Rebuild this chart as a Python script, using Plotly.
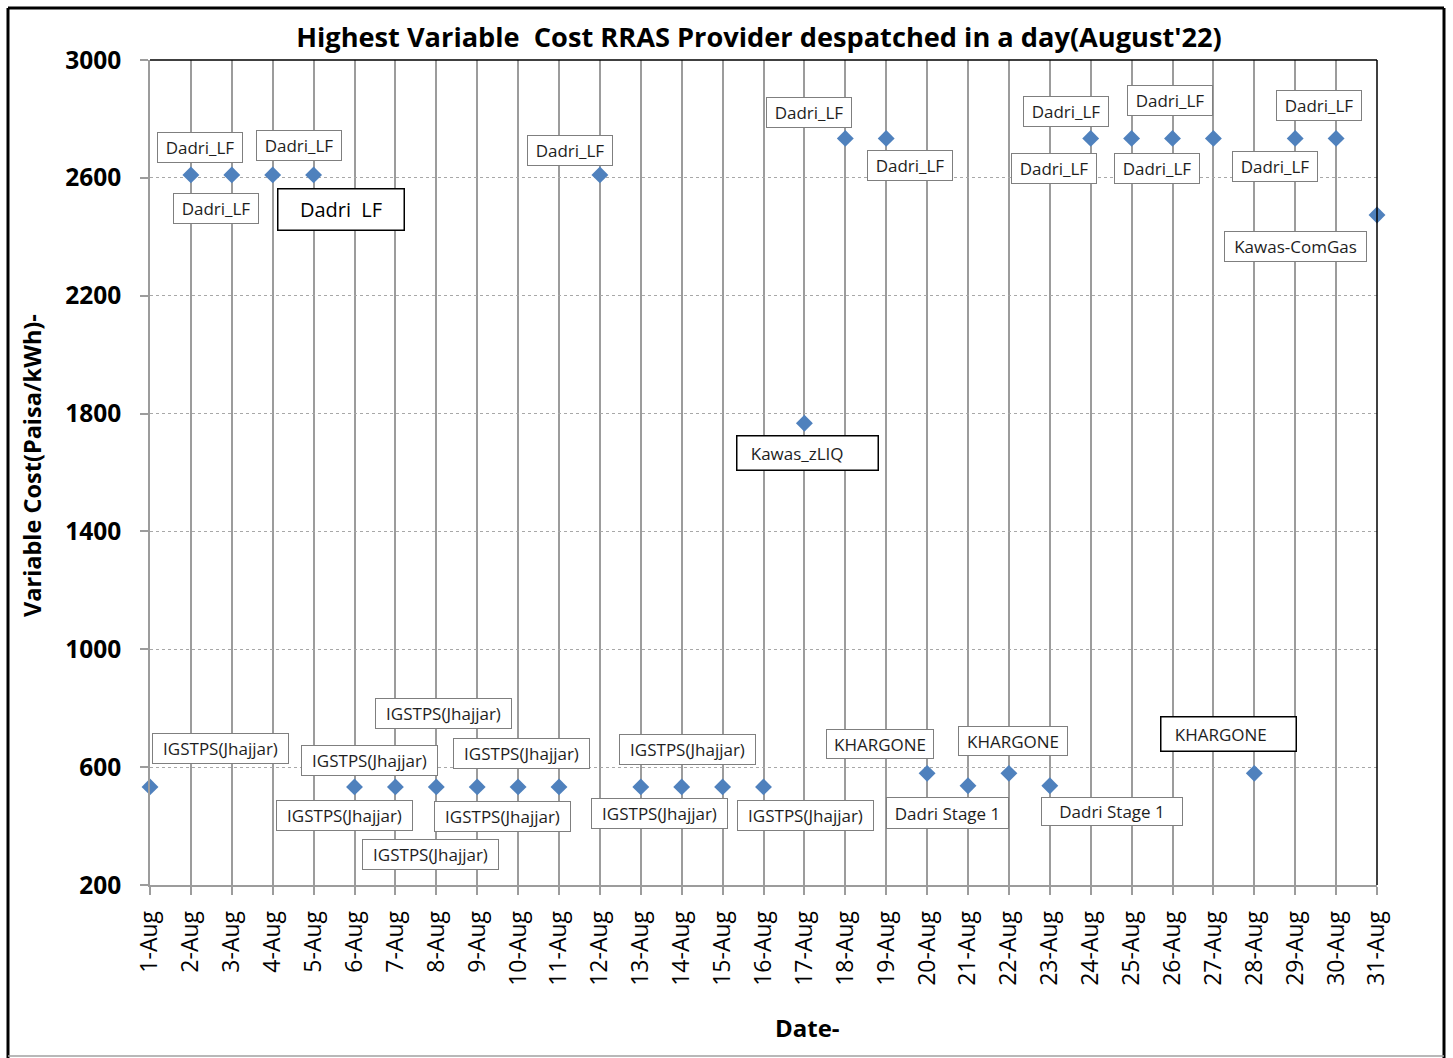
import plotly.graph_objects as go

# ---------------- data ----------------
days = list(range(1, 32))
date_labels = [f"{d}-Aug" for d in days]
cost = [533, 2610, 2610, 2610, 2610, 533, 533, 533, 533, 533, 533, 2610, 533, 533, 533, 533,
        1767, 2734, 2734, 579, 537, 579, 537, 2734, 2734, 2734, 2734, 579, 2734, 2734, 2474]
provider = ["IGSTPS(Jhajjar)",
            "Dadri_LF", "Dadri_LF", "Dadri_LF", "Dadri_LF",
            "IGSTPS(Jhajjar)", "IGSTPS(Jhajjar)", "IGSTPS(Jhajjar)", "IGSTPS(Jhajjar)",
            "IGSTPS(Jhajjar)", "IGSTPS(Jhajjar)",
            "Dadri_LF",
            "IGSTPS(Jhajjar)", "IGSTPS(Jhajjar)", "IGSTPS(Jhajjar)", "IGSTPS(Jhajjar)",
            "Kawas_zLIQ", "Dadri_LF", "Dadri_LF", "KHARGONE", "Dadri Stage 1", "KHARGONE",
            "Dadri Stage 1", "Dadri_LF", "Dadri_LF", "Dadri_LF", "Dadri_LF", "KHARGONE",
            "Dadri_LF", "Dadri_LF", "Kawas-ComGas"]
y_ticks = [200, 600, 1000, 1400, 1800, 2200, 2600, 3000]

# ---------------- label layout (pixel offsets from each point) ----------------
# day: (dx, dy_up, box_w, box_h, kind)
label_layout = {
    1: (70, 38, 137, 31, "std"),
    2: (9, 27, 86, 31, "std"),
    3: (-16, -34, 86, 31, "std"),
    4: (26, 29, 86, 31, "std"),
    5: (27, -35, 128, 43, "bigfont"),
    6: (-10, -29, 137, 31, "std"),
    7: (-26, 26, 137, 31, "std"),
    8: (-6, -68, 137, 31, "std"),
    9: (-34, 73, 137, 31, "std"),
    10: (-16, -30, 137, 31, "std"),
    11: (-38, 33, 137, 31, "std"),
    12: (-30, 24, 86, 31, "std"),
    13: (19, -27, 137, 31, "std"),
    14: (6, 37, 137, 31, "std"),
    16: (42, -29, 137, 31, "std"),
    17: (3, -30, 143, 36, "bigbox"),
    18: (-36, 26, 86, 31, "std"),
    19: (24, -27, 86, 31, "std"),
    20: (-47, 29, 108, 30, "std"),
    21: (-21, -27, 123, 32, "std"),
    22: (4, 32, 110, 30, "std"),
    23: (62, -26, 142, 29, "std"),
    24: (-25, 27, 86, 31, "std"),
    25: (-78, -30, 86, 31, "std"),
    26: (-3, 38, 86, 31, "std"),
    27: (-56, -30, 86, 31, "std"),
    28: (-26, 39, 137, 36, "bigbox"),
    29: (-20, -28, 86, 31, "std"),
    30: (-17, 33, 86, 31, "std"),
    31: (-82, -32, 143, 31, "std"),
}
label_override = {5: "Dadri\u00a0\u00a0LF"}

# plot area in pixels
W, H = 1453, 1058
PL, PR, PT, PB = 150, 1377, 60, 885


def px_x(p):
    return (p - PL) / (PR - PL)


def px_y(p):
    return (PB - p) / (PB - PT)


FONT = "Open Sans"
TXT = "#1e1e1e"
GRID = "#9c9c9c"

fig = go.Figure()
fig.add_trace(go.Scatter(
    x=days, y=cost, mode="markers",
    marker=dict(symbol="diamond", size=13, color="#4F81BD"),
    cliponaxis=False, showlegend=False, hoverinfo="x+y+text", text=provider,
))

annotations = []
for d, val, prov in zip(days, cost, provider):
    if d not in label_layout:
        continue
    dx, dy, bw, bh, kind = label_layout[d]
    text = label_override.get(d, prov)
    if kind == "std":
        annotations.append(dict(
            x=d, y=val, xref="x", yref="y", text=text, showarrow=False,
            xshift=dx, yshift=dy, width=bw - 2, height=bh - 2,
            bordercolor="#7f7f7f", borderwidth=1, borderpad=0, bgcolor="white",
            font=dict(family=FONT, size=17, color=TXT), align="center", valign="middle"))
    elif kind == "bigfont":
        annotations.append(dict(
            x=d, y=val, xref="x", yref="y", text=text, showarrow=False,
            xshift=dx, yshift=dy, width=bw - 3, height=bh - 3,
            bordercolor="#000000", borderwidth=1.5, borderpad=0, bgcolor="white",
            font=dict(family=FONT, size=20, color="#000000"), align="center", valign="middle"))
    else:
        annotations.append(dict(
            x=d, y=val, xref="x", yref="y", text="\u00a0\u00a0\u00a0" + text, showarrow=False,
            xshift=dx, yshift=dy, width=bw - 3, height=bh - 3,
            bordercolor="#000000", borderwidth=1.5, borderpad=0, bgcolor="white",
            font=dict(family=FONT, size=17, color=TXT), align="left", valign="middle"))

# axis titles
annotations.append(dict(
    x=px_x(32), y=px_y(466), xref="paper", yref="paper", showarrow=False,
    text="Variable Cost(Paisa/kWh)-", textangle=-90,
    font=dict(family=FONT, size=23.5, color="#000000", weight="bold"),
    xanchor="center", yanchor="middle"))
annotations.append(dict(
    x=px_x(807), y=px_y(1027), xref="paper", yref="paper", showarrow=False,
    text="Date-", font=dict(family=FONT, size=24, color="#000000", weight="bold"),
    xanchor="center", yanchor="middle"))

shapes = [
    # plot area top / right borders
    dict(type="line", xref="paper", yref="paper", x0=0, y0=1, x1=1, y1=1,
         line=dict(color="#000000", width=1.5)),
    dict(type="line", xref="paper", yref="paper", x0=1, y0=0, x1=1, y1=1,
         line=dict(color="#000000", width=1.5)),
    # outer chart frame
    dict(type="line", xref="paper", yref="paper", x0=px_x(8), y0=px_y(8), x1=px_x(1444), y1=px_y(8),
         line=dict(color="#000000", width=3)),
    dict(type="line", xref="paper", yref="paper", x0=px_x(8), y0=px_y(8), x1=px_x(8), y1=px_y(1058),
         line=dict(color="#000000", width=3)),
    dict(type="line", xref="paper", yref="paper", x0=px_x(1444), y0=px_y(8), x1=px_x(1444), y1=px_y(1058),
         line=dict(color="#000000", width=3)),
    dict(type="line", xref="paper", yref="paper", x0=px_x(8), y0=px_y(1056), x1=px_x(1444), y1=px_y(1056),
         line=dict(color="#a0a0a0", width=1.5)),
]

fig.update_layout(
    width=W, height=H, autosize=False,
    margin=dict(l=PL, r=W - PR, t=PT, b=H - PB),
    paper_bgcolor="white", plot_bgcolor="white",
    title=dict(text="Highest Variable\u00a0\u00a0Cost RRAS Provider despatched in a day(August'22)",
               x=759 / W, y=1 - 37 / H, xref="container", yref="container",
               xanchor="center", yanchor="middle",
               font=dict(family=FONT, size=27.2, color="#000000", weight="bold")),
    annotations=annotations, shapes=shapes, showlegend=False,
)
fig.update_xaxes(
    range=[1, 31], tickmode="array", tickvals=days, ticktext=date_labels, tickangle=-90,
    tickfont=dict(family=FONT, size=23, color="#000000"),
    showgrid=True, gridcolor=GRID, gridwidth=1.5,
    showline=True, linecolor=GRID, linewidth=1.5,
    ticks="outside", ticklen=8, tickcolor=GRID, tickwidth=1.5,
    ticklabelstandoff=7, zeroline=False, automargin=False,
)
fig.update_yaxes(
    range=[200, 3000], tickmode="array", tickvals=y_ticks,
    tickfont=dict(family=FONT, size=24.5, color="#000000", weight="bold"),
    showgrid=True, gridcolor="#a8a8a8", gridwidth=1, griddash="dot",
    showline=True, linecolor=GRID, linewidth=1.5,
    ticks="outside", ticklen=8, tickcolor=GRID, tickwidth=1.5,
    ticklabelstandoff=14, zeroline=False, automargin=False,
)

fig.write_html("out.html", config={"displayModeBar": False},
               post_script="document.body.style.margin='0px';")
